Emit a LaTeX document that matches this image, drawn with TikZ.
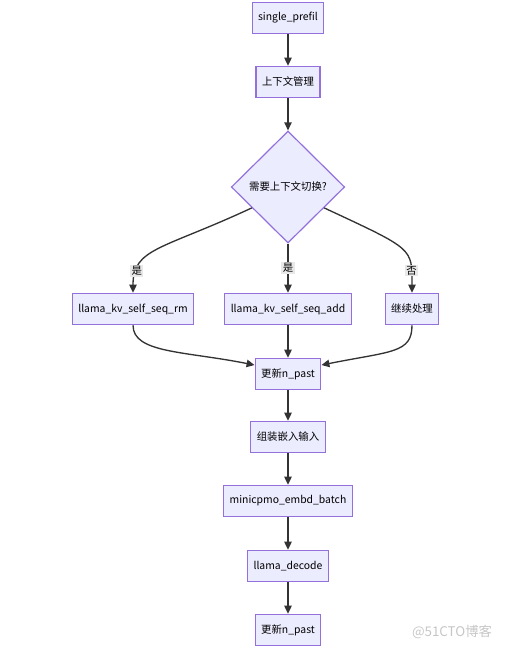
\documentclass[tikz,border=0pt]{standalone}
\usepackage{fontspec}
\setmainfont{Noto Sans CJK SC}
\usepackage{tikz}
\usetikzlibrary{shapes.geometric}
\usetikzlibrary{arrows.meta}
\definecolor{boxfill}{HTML}{ECECFF}
\definecolor{boxline}{HTML}{9370DB}
\definecolor{edgegray}{HTML}{333333}
\definecolor{lblfill}{HTML}{E8E8E8}

\begin{document}
\begin{tikzpicture}[x=0.75pt, y=-0.75pt,
	every node/.style={rectangle, draw=boxline, fill=boxfill, line width=0.9pt, font=\fontsize{7.8}{9.5}\selectfont, minimum height=23.5pt, inner xsep=4.5pt},
	flow/.style={draw=edgegray, line width=1pt, -{Triangle[length=6pt, width=5.5pt]}},
	lbl/.style={fill=lblfill, draw=none, shape=rectangle, inner sep=1pt, minimum height=0pt}]
			\useasboundingbox (0,0) rectangle (506,651);
			% Nodes
			\node (1) at (288,18) {single\_prefil};
			\node (2) at (288,82) {上下文管理};
			\node[diamond, minimum width=85pt, minimum height=84pt, inner sep=0pt] (3) at (288,187) {需要上下文切换?};
			\node (4) at (133,309) {llama\_kv\_self\_seq\_rm};
			\node (5) at (288,309) {llama\_kv\_self\_seq\_add};
			\node (6) at (412,309) {继续处理};
			\node (7) at (288,374) {更新n\_past};
			\node (8) at (288,437) {组装嵌入输入};
			\node (9) at (288,501) {minicpmo\_embd\_batch};
			\node (10) at (288,566) {llama\_decode};
			\node (11) at (288,630) {更新n\_past};
			\node[draw=none, fill=none, text=gray!45, font=\fontsize{10}{12}\selectfont] (wm) at (452,632) {@51CTO博客};
			% Edges with labels
			\draw[flow] (1) -- (2);
			\draw[flow] (2) -- (3);
			\draw[flow] (3.-150) .. controls +(-90,42) and +(0,-45) .. (4.north) node[pos=0.8, lbl] {是};
			\draw[flow] (3) -- (5) node[midway, lbl] {是};
			\draw[flow] (3.-30) .. controls +(90,42) and +(0,-45) .. (6.north) node[pos=0.8, lbl] {否};
			\draw[flow] (4.south) .. controls +(0,28) and +(-70,-14) .. (7.165);
			\draw[flow] (5) -- (7);
			\draw[flow] (6.south) .. controls +(0,28) and +(70,-14) .. (7.15);
			\draw[flow] (7) -- (8);
			\draw[flow] (8) -- (9);
			\draw[flow] (9) -- (10);
			\draw[flow] (10) -- (11);
		\end{tikzpicture}
\end{document}
